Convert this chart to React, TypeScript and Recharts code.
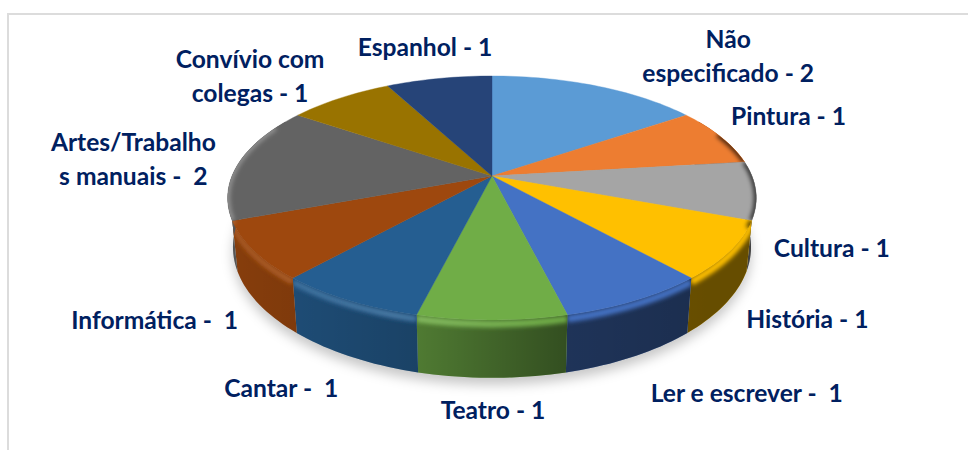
import { Pie, PieChart } from "recharts";

const CATEGORIES = [
  "Não\nespecificado - 2",
  "Pintura - 1",
  "Cultura - 1",
  "História - 1",
  "Ler e escrever -  1",
  "Teatro - 1",
  "Cantar -  1",
  "Informática -  1",
  "Artes/Trabalho\ns manuais -  2",
  "Convívio com\ncolegas - 1",
  "Espanhol - 1",
];
const VALUES = [2, 1, 1, 1, 1, 1, 1, 1, 2, 1, 1];
const COLORS = [
  "#5B9BD5", "#ED7D31", "#A5A5A5", "#FFC000", "#4472C4", "#70AD47",
  "#255E91", "#9E480E", "#636363", "#997300", "#264478",
];
// label offset from the slice's rim point
const LABEL_NUDGES = [
  [132, -38], [68, -12], [76, 66], [77, 77], [111, 102], [1, 99],
  [-67, 97], [-99, 78], [-106, -11], [-90, -30], [-14, -22],
];

const W = 968;
const H = 450;
const CX = 492;
const CY = 176;
const RADIUS = 260;
const TILT = 118 / 260;
const PERSPECTIVE = 0.18;
const DEPTH = 47.5;
const BOTTOM_X = 0.98;
const WALL_FROM = 60;
const WALL_TO = 300;

const rows = CATEGORIES.map((name, i) => ({ name, value: VALUES[i], fill: COLORS[i] }));

// clockwise from 12 o'clock, down is how far along the wall we are (0..1)
function project(cx: number, cy: number, r: number, deg: number, down = 0) {
  const a = (deg * Math.PI) / 180;
  const X = Math.sin(a);
  const Y = Math.cos(a);
  const w = 1 + PERSPECTIVE * Y;
  const xScale = 1 - (1 - BOTTOM_X) * down;
  return [cx + (r * X * xScale) / w, cy - (r * TILT * Y) / w + (DEPTH * down) / w];
}

function arc(cx: number, cy: number, r: number, from: number, to: number, down = 0) {
  const pts: number[][] = [];
  const steps = Math.max(2, Math.ceil(Math.abs(to - from) / 1.5));
  for (let i = 0; i <= steps; i++) {
    pts.push(project(cx, cy, r, from + ((to - from) * i) / steps, down));
  }
  return pts;
}

const toD = (pts: number[][]) =>
  pts.map((p, i) => `${i ? "L" : "M"}${p[0].toFixed(2)} ${p[1].toFixed(2)}`).join(" ");

function TopSlice(props: any) {
  const { cx, cy, outerRadius, startAngle, endAngle, fill, index } = props;
  const from = 90 - startAngle;
  const to = 90 - endAngle;
  const d = toD([[cx, cy], ...arc(cx, cy, outerRadius, from, to)]) + " Z";
  const clipId = `top-clip-${index}`;
  // side edges of the disc turn away from the light
  const darkFrom = Math.max(from, 68);
  const darkTo = Math.min(to, 114);
  const lightFrom = Math.max(from, 248);
  const lightTo = Math.min(to, 296);
  return (
    <g>
      <clipPath id={clipId}>
        <path d={d} />
      </clipPath>
      <path d={d} fill={fill} stroke={fill} strokeWidth={0.4} />
      <g clipPath={`url(#${clipId})`}>
        {darkTo > darkFrom && (
          <path
            d={toD(arc(cx, cy, outerRadius, darkFrom, darkTo))}
            fill="none"
            stroke="#000"
            strokeOpacity={0.7}
            strokeWidth={5}
            filter="url(#soft)"
          />
        )}
        {lightTo > lightFrom && (
          <path
            d={toD(arc(cx, cy, outerRadius, lightFrom, lightTo))}
            fill="none"
            stroke="#fff"
            strokeOpacity={0.3}
            strokeWidth={5}
            filter="url(#soft)"
          />
        )}
      </g>
    </g>
  );
}

function WallSlice(props: any) {
  const { cx, cy, outerRadius, startAngle, endAngle, fill, index } = props;
  const from = Math.max(90 - startAngle, WALL_FROM);
  const to = Math.min(90 - endAngle, WALL_TO);
  if (to <= from) return <g />;
  const rim = arc(cx, cy, outerRadius, from, to);
  const foot = arc(cx, cy, outerRadius, to, from, 1);
  const d = toD([...rim, ...foot]) + " Z";
  const glow = arc(cx, cy, outerRadius, from, to, 0.07);
  const clipId = `wall-clip-${index}`;
  return (
    <g>
      <clipPath id={clipId}>
        <path d={d} />
      </clipPath>
      <path d={d} fill={fill} />
      <path d={d} fill="url(#wallShade)" />
      <g clipPath={`url(#${clipId})`}>
        <path d={toD(glow)} fill="none" stroke={fill} strokeWidth={7} filter="url(#soft)" />
        <path d={toD(glow)} fill="none" stroke="url(#rimLight)" strokeWidth={4} filter="url(#soft)" />
      </g>
    </g>
  );
}

function GroundShadow(props: any) {
  const { cx, cy, outerRadius } = props;
  const d = toD(arc(cx, cy, outerRadius, 0, 360, 1)) + " Z";
  return (
    <g>
      <defs>
        <filter id="soft" filterUnits="userSpaceOnUse" x={0} y={0} width={W} height={H}>
          <feGaussianBlur stdDeviation={2.2} />
        </filter>
        <filter id="ground" filterUnits="userSpaceOnUse" x={0} y={0} width={W} height={H}>
          <feGaussianBlur stdDeviation={6} />
        </filter>
        <linearGradient id="wallShade" gradientUnits="userSpaceOnUse" x1={230} y1={0} x2={760} y2={0}>
          <stop offset="0%" stopColor="#000" stopOpacity={0.15} />
          <stop offset="13%" stopColor="#000" stopOpacity={0.2} />
          <stop offset="36%" stopColor="#000" stopOpacity={0.3} />
          <stop offset="64%" stopColor="#000" stopOpacity={0.55} />
          <stop offset="90%" stopColor="#000" stopOpacity={0.6} />
          <stop offset="100%" stopColor="#000" stopOpacity={0.6} />
        </linearGradient>
        <linearGradient id="rimLight" gradientUnits="userSpaceOnUse" x1={230} y1={0} x2={560} y2={0}>
          <stop offset="0%" stopColor="#fff" stopOpacity={0.1} />
          <stop offset="50%" stopColor="#fff" stopOpacity={0.22} />
          <stop offset="100%" stopColor="#fff" stopOpacity={0} />
        </linearGradient>
      </defs>
      <path d={d} fill="#000" fillOpacity={0.22} transform="translate(0 7)" filter="url(#ground)" />
    </g>
  );
}

function SliceLabel(props: any) {
  const { cx, cy, outerRadius, midAngle, index } = props;
  const [px, py] = project(cx, cy, outerRadius, 90 - midAngle);
  const [dx, dy] = LABEL_NUDGES[index];
  const lines = CATEGORIES[index].split("\n");
  return (
    <text
      x={px + dx}
      y={py + dy}
      textAnchor="middle"
      fontFamily="Lato, sans-serif"
      fontWeight={700}
      fontSize={24.6}
      fill="#002060"
      style={{ whiteSpace: "pre" }}
    >
      {lines.map((line, i) => (
        <tspan key={line} x={px + dx} dy={i ? 34 : 0}>
          {line}
        </tspan>
      ))}
    </text>
  );
}

const pieProps = {
  cx: CX,
  cy: CY,
  outerRadius: RADIUS,
  startAngle: 90,
  endAngle: -270,
  dataKey: "value",
  stroke: "none",
  isAnimationActive: false,
};

export default function App() {
  return (
    <div style={{ position: "absolute", left: 0, top: 0, width: W, height: H, background: "#fff", overflow: "hidden" }}>
      <div
        style={{
          position: "absolute",
          left: 7,
          top: 13,
          width: W,
          height: H,
          boxSizing: "border-box",
          borderLeft: "2px solid #DCDCDC",
          borderTop: "2px solid #DCDCDC",
        }}
      />
      <div style={{ position: "absolute", left: 0, top: 0 }}>
        <PieChart width={W} height={H} margin={{ top: 0, right: 0, bottom: 0, left: 0 }}>
          <Pie {...pieProps} data={[{ value: 1 }]} shape={GroundShadow} />
          <Pie {...pieProps} data={rows} shape={WallSlice} />
          <Pie {...pieProps} data={rows} shape={TopSlice} label={SliceLabel} labelLine={false} />
        </PieChart>
      </div>
    </div>
  );
}
